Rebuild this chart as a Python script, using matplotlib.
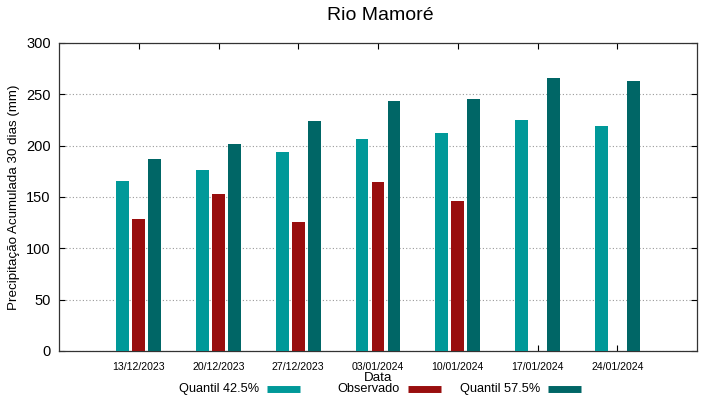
import numpy as np
import matplotlib.pyplot as plt
from matplotlib.lines import Line2D

plt.rcParams['font.family'] = ['Liberation Sans', 'DejaVu Sans']

# Dados
datas = ['13/12/2023', '20/12/2023', '27/12/2023', '03/01/2024',
         '10/01/2024', '17/01/2024', '24/01/2024']
quantil_425 = [165.6, 176.4, 193.6, 206.6, 212.2, 224.9, 219.3]
observado = [128.9, 152.9, 125.6, 164.7, 145.8, np.nan, np.nan]
quantil_575 = [187.4, 201.4, 224.2, 243.4, 245.7, 265.9, 262.9]

cor_q1 = '#009999'
cor_obs = '#990e0e'
cor_q2 = '#006666'

fig = plt.figure(figsize=(7.19, 3.99), dpi=100)
ax = fig.add_axes([59/719, 48/399, 638/719, 308/399])

x = np.arange(len(datas))
w = 0.16
ax.bar(x - 0.2, quantil_425, w, color=cor_q1, zorder=3)
ax.bar(x, observado, w, color=cor_obs, zorder=3)
ax.bar(x + 0.2, quantil_575, w, color=cor_q2, zorder=3)

ax.set_xlim(-1, 7)
ax.set_ylim(0, 300)
ax.set_xticks(x)
ax.set_xticklabels(datas, fontsize=7.6)
ax.set_yticks(np.arange(0, 301, 50))
ax.tick_params(axis='y', labelsize=10.5, direction='in', length=4, right=True, pad=6)
ax.tick_params(axis='x', direction='in', length=4, top=True, pad=8)
ax.yaxis.grid(True, linestyle=(0, (1, 2)), color='#999999', lw=0.8)
for s in ax.spines.values():
    s.set_color('#333333')
    s.set_linewidth(0.9)

ax.set_ylabel('Precipitação Acumulada 30 dias (mm)', fontsize=9.6)
fig.text(378/719, 1 - 378/399, 'Data', ha='center', va='center', fontsize=9.6)
fig.text(380/719, 1 - 16/399, 'Rio Mamoré', ha='center', va='center', fontsize=14)

# legenda estilo gnuplot
itens = [('Quantil 42.5%', cor_q1), ('Observado', cor_obs), ('Quantil 57.5%', cor_q2)]
for i, (nome, cor) in enumerate(itens):
    fim = 300 + 140.5 * i
    yl = 1 - 389/399
    fig.text((fim - 41)/719, yl, nome, ha='right', va='center', fontsize=9.2)
    fig.add_artist(Line2D([(fim - 33)/719, fim/719], [yl, yl], color=cor, lw=5,
                          transform=fig.transFigure, solid_capstyle='butt'))

fig.savefig('out.png', dpi=100)
